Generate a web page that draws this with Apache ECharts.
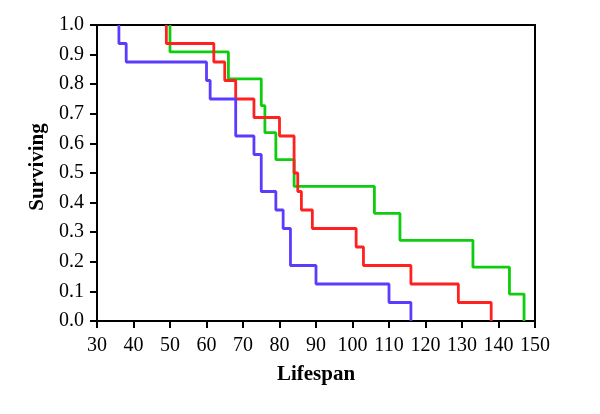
<!DOCTYPE html>
<html>
<head>
<meta charset="utf-8">
<script src="https://cdn.jsdelivr.net/npm/echarts@6/dist/echarts.min.js"></script>
<style>html,body{margin:0;padding:0;background:#fff}#c{width:600px;height:414px}</style>
</head>
<body>
<div id="c"></div>
<script>
var xTicks = [30,40,50,60,70,80,90,100,110,120,130,140,150];
var yTicks = [0,0.1,0.2,0.3,0.4,0.5,0.6,0.7,0.8,0.9,1.0];

var blueTimes = [36,36,38,60,61,68,73,75,79,81,83,90,110,116];
var blueSurv  = [1,0.9375,0.875,0.8125,0.75,0.625,0.5625,0.4375,0.375,0.3125,0.1875,0.125,0.0625,0];

var redTimes = [49,49,62,65,68,73,80,84,85,86,89,101,103,116,129,138];
var redSurv  = [1,0.9375,0.875,0.8125,0.75,0.6875,0.625,0.5,0.4375,0.375,0.3125,0.25,0.1875,0.125,0.0625,0];

var greenTimes = [50,50,66,75,76,79,84,106,113,133,143,147];
var greenSurv  = [1,0.9091,0.8182,0.7273,0.6364,0.5455,0.4545,0.3636,0.2727,0.1818,0.0909,0];

function pairs(t, s){ return t.map(function(v,i){ return [v, s[i]]; }); }

var font = '"Liberation Serif","Times New Roman",serif';
var chart = echarts.init(document.getElementById('c'), null, {renderer:'canvas'});
function mk(name, t, s, color){
  return {type:'line', name:name, step:'end', data:pairs(t,s), showSymbol:false, symbol:'none',
    lineStyle:{color:color, width:2.8}, itemStyle:{color:color}, animation:false};
}
chart.setOption({
  animation:false,
  grid:{left:97, right:65, top:25, bottom:93, show:true, borderColor:'#000', borderWidth:2, backgroundColor:'transparent'},
  xAxis:{type:'value', min:30, max:150, interval:10,
    name:'Lifespan', nameLocation:'middle', nameGap:43,
    nameTextStyle:{fontFamily:font, fontWeight:'bold', fontSize:21, color:'#000'},
    axisLine:{show:true, lineStyle:{color:'#000', width:2}},
    axisTick:{show:true, inside:false, length:7, lineStyle:{color:'#000', width:2}},
    axisLabel:{margin:15, fontFamily:font, fontSize:20, color:'#000',
      formatter:function(v){ return xTicks.indexOf(v) >= 0 ? String(v) : ''; }},
    splitLine:{show:false}},
  yAxis:{type:'value', min:0, max:1, interval:0.1,
    name:'Surviving', nameLocation:'middle', nameGap:42, nameRotate:90,
    nameTextStyle:{fontFamily:font, fontWeight:'bold', fontSize:21, color:'#000', padding:[0,0,0,12]},
    axisLine:{show:true, lineStyle:{color:'#000', width:2}},
    axisTick:{show:true, inside:false, length:7, lineStyle:{color:'#000', width:2}},
    axisLabel:{margin:13, fontFamily:font, fontSize:20, color:'#000',
      formatter:function(v){ var r = Math.round(v*10)/10; return r.toFixed(1); }},
    splitLine:{show:false}},
  series:[
    mk('green', greenTimes, greenSurv, '#0ecc0e'),
    mk('red', redTimes, redSurv, '#ff2020'),
    mk('blue', blueTimes, blueSurv, '#5a3cff')
  ]
});
</script>
</body>
</html>
